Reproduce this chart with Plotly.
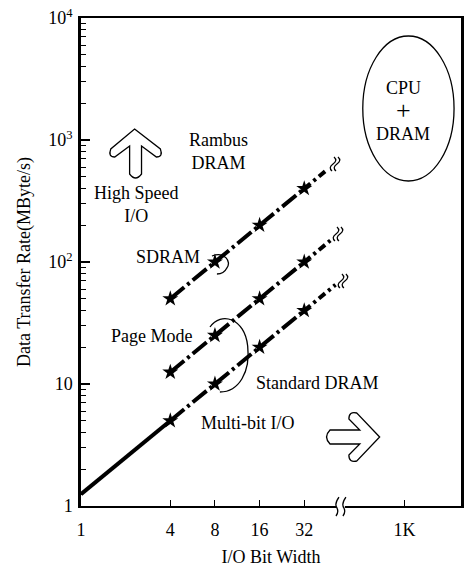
import math
import plotly.graph_objects as go

# ---------------- data ----------------
bit_widths = [4, 8, 16, 32]
sdram_rate = [50, 100, 200, 400]          # SDRAM / Rambus DRAM
page_rate = [12.5, 25, 50, 100]           # Page Mode
std_rate = [5, 10, 20, 40]                # Standard DRAM
std_start_width = [1, 4]
std_start_rate = [1.25, 5]
ext_width = [46, 48, 52]                  # dashed extensions beyond 32 bits
ext_rate = [575, 150, 65]

x_tick_vals = [1, 4, 8, 16, 32, 151.6]    # 151.6 = position of broken-axis "1K"
x_tick_text = ["1", "4", "8", "16", "32", "1K"]
y_tick_vals = [1, 10, 100, 1000, 10000]
y_tick_text = ["1", "10", "10<sup>2</sup>", "10<sup>3</sup>", "10<sup>4</sup>"]
y_minor_vals = [m * 10 ** d for d in range(4) for m in range(2, 10)]

FONT = "Liberation Serif, Times New Roman, serif"

# plot area geometry (pixels)
W_FIG, H_FIG = 469, 569
L, R, T, B = 81, 464, 18, 506
PW, PH = R - L, B - T
OCT = 45.0  # px per octave on x axis


def xp(px):
    return (px - L) / PW


def yp(py):
    return (B - py) / PH


def path(points_cmds):
    out = []
    for item in points_cmds:
        if isinstance(item, str):
            out.append(item)
        else:
            out.append(f"{xp(item[0]):.5f},{yp(item[1]):.5f}")
    return " ".join(out)


fig = go.Figure()

LW = 4
mid_dash = "18px,4px,3px,4px"
end_dash = "8px,4px,3px,4px"

# Standard DRAM solid start
fig.add_trace(go.Scatter(x=std_start_width, y=std_start_rate, mode="lines",
                         line=dict(color="black", width=LW), showlegend=False))

for rates, ew, er in [(sdram_rate, ext_width[0], ext_rate[0]),
                      (page_rate, ext_width[1], ext_rate[1]),
                      (std_rate, ext_width[2], ext_rate[2])]:
    fig.add_trace(go.Scatter(x=bit_widths, y=rates, mode="lines",
                             line=dict(color="black", width=LW, dash=mid_dash),
                             showlegend=False))
    fig.add_trace(go.Scatter(x=[bit_widths[-1], ew], y=[rates[-1], er], mode="lines",
                             line=dict(color="black", width=LW, dash=end_dash),
                             showlegend=False))
    fig.add_trace(go.Scatter(x=bit_widths, y=rates, mode="markers",
                             marker=dict(symbol="star", size=12, color="black"),
                             showlegend=False))

shapes = []
line_style = dict(color="black", width=1.3)


def break_mark(cx, cy, h=7, sep=4):
    for dx in (-sep / 2, sep / 2):
        x = cx + dx
        shapes.append(dict(type="path", xref="paper", yref="paper",
                           path=path(["M", (x + 1, cy - h), "Q", (x + 5, cy - h / 2), (x, cy),
                                      "Q", (x - 5, cy + h / 2), (x - 1, cy + h)]),
                           line=line_style))


break_mark(337, 164)
break_mark(340, 234)
break_mark(345, 281)

# x axis break
shapes.append(dict(type="rect", xref="paper", yref="paper",
                   x0=xp(338), x1=xp(347), y0=yp(510), y1=yp(502),
                   fillcolor="white", line=dict(width=0), layer="above"))
for x in (339, 346):
    shapes.append(dict(type="path", xref="paper", yref="paper",
                       path=path(["M", (x + 2, B - 9), "Q", (x - 3, B - 2), (x, B + 2),
                                  "Q", (x + 2, B + 6), (x - 1, B + 10)]),
                       line=line_style, layer="above"))

# CPU + DRAM ellipse
shapes.append(dict(type="circle", xref="paper", yref="paper",
                   x0=xp(365), x1=xp(457), y0=yp(181), y1=yp(36),
                   line=line_style))

# SDRAM bracket
shapes.append(dict(type="path", xref="paper", yref="paper",
                   path=path(["M", (213, 256), "C", (226, 251), (233, 262), (228, 268),
                              "C", (226, 272), (222, 274), (218, 274)]),
                   line=line_style))
# Page mode / standard bracket
shapes.append(dict(type="path", xref="paper", yref="paper",
                   path=path(["M", (211, 327), "C", (222, 311), (246, 318), (249, 346),
                              "C", (252, 372), (240, 392), (221, 392)]),
                   line=line_style))

# outline arrows
shapes.append(dict(type="path", xref="paper", yref="paper",
                   path=path(["M", (135, 129), "L", (161, 149), "Q", (164, 157), (157, 157),
                              "L", (142, 146), "L", (142, 174), "Q", (136, 182), (130, 174),
                              "L", (130, 146), "L", (115, 157), "Q", (108, 157), (111, 149), "Z"]),
                   line=line_style, fillcolor="white"))
shapes.append(dict(type="path", xref="paper", yref="paper",
                   path=path(["M", (382, 437), "L", (359, 413), "Q", (351, 411), (351, 419),
                              "L", (362, 430), "L", (332, 430), "Q", (325, 437), (332, 444),
                              "L", (362, 444), "L", (351, 455), "Q", (351, 463), (359, 461), "Z"]),
                   line=line_style, fillcolor="white"))

annotations = []


def label(text, cx, cy, size=18):
    annotations.append(dict(text=text, x=xp(cx), y=yp(cy), xref="paper", yref="paper",
                            showarrow=False, xanchor="center", yanchor="middle",
                            font=dict(family=FONT, size=size, color="black")))


label("Rambus<br>DRAM", 220, 151)
label("High Speed<br>I/O", 137, 204)
label("SDRAM", 169, 257)
label("Page Mode", 152, 336)
label("Standard DRAM", 319, 383)
label("Multi-bit I/O", 249, 423)
label("CPU", 406, 88)
label("+", 406, 111, size=26)
label("DRAM", 406, 134)

x_max = math.log10(2 ** (PW / OCT))

fig.update_layout(
    width=W_FIG, height=H_FIG,
    margin=dict(l=L, r=W_FIG - R, t=T, b=H_FIG - B, pad=0),
    paper_bgcolor="white", plot_bgcolor="white",
    font=dict(family=FONT, size=18, color="black"),
    shapes=shapes, annotations=annotations,
    xaxis=dict(type="log", range=[0, x_max], tickmode="array",
               tickvals=x_tick_vals, ticktext=x_tick_text,
               ticks="inside", ticklen=6, tickwidth=1.3, tickcolor="black",
               showline=True, linecolor="black", linewidth=2, mirror=True,
               showgrid=False, zeroline=False, ticklabelstandoff=6,
               title=dict(text="I/O Bit Width", standoff=12,
                          font=dict(family=FONT, size=18))),
    yaxis=dict(type="log", range=[0, 4], tickmode="array",
               tickvals=y_tick_vals, ticktext=y_tick_text,
               ticks="inside", ticklen=9, tickwidth=1.5, tickcolor="black",
               minor=dict(tickmode="array", tickvals=y_minor_vals, ticks="inside",
                          ticklen=5, tickwidth=1.2, tickcolor="black", showgrid=False),
               showline=True, linecolor="black", linewidth=2.5, mirror=True,
               showgrid=False, zeroline=False, ticklabelstandoff=2,
               title=dict(text="Data Transfer Rate(MByte/s)", standoff=14,
                          font=dict(family=FONT, size=18))),
)

fig.write_html("out.html")
